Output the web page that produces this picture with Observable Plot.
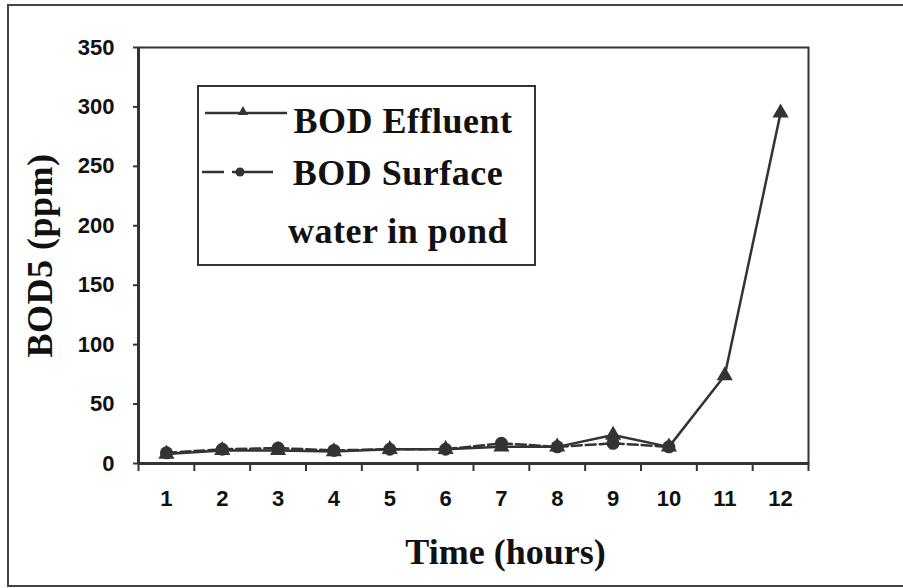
<!DOCTYPE html>
<html>
<head>
<meta charset="utf-8">
<script src="https://cdn.jsdelivr.net/npm/d3@7"></script>
<script src="https://cdn.jsdelivr.net/npm/@observablehq/plot@0.6"></script>
<style>
  html, body { margin: 0; padding: 0; background: #fff; overflow: hidden; }
  #wrap { position: relative; width: 903px; height: 588px; overflow: hidden; }
  #border { position: absolute; left: 7px; top: 4px; width: 905px; height: 583px; border: 2px solid #444; box-sizing: border-box; pointer-events: none; }
  #legend { position: absolute; left: 197px; top: 85px; }
</style>
</head>
<body>
<div id="wrap">
  <div id="chart"></div>
  <div id="border"></div>
  <div id="legend"></div>
</div>
<script>
const hours = [1, 2, 3, 4, 5, 6, 7, 8, 9, 10, 11, 12];
const effluent = [8, 11, 11, 10, 12, 12, 14, 14, 24, 14, 74, 295];
const surfaceHours = [1, 2, 3, 4, 5, 6, 7, 8, 9, 10];
const surface = [9, 12, 13, 11, 12, 12, 17, 14, 17, 14];
const yTicks = [0, 50, 100, 150, 200, 250, 300, 350];
const legendLines = [["BOD Effluent"], ["BOD Surface", "water in pond"]];

const effData = hours.map((h, i) => ({hour: h, bod: effluent[i]}));
const surfData = surfaceHours.map((h, i) => ({hour: h, bod: surface[i]}));
const boundaries = d3.range(0.5, 13, 1);

const ink = "#333";
const serif = "Liberation Serif, Times New Roman, serif";
const sans = "Liberation Sans, Arial, sans-serif";
const chart = Plot.plot({
  width: 903,
  height: 588,
  marginLeft: 138,
  marginRight: 95,
  marginTop: 47,
  marginBottom: 125,
  style: {background: "transparent", color: "#111"},
  x: {domain: [0.5, 12.5]},
  y: {domain: [0, 350]},
  marks: [
    Plot.frame({stroke: ink, strokeWidth: 2}),
    Plot.axisY({ticks: yTicks, tickSize: 5, tickPadding: 19, stroke: ink, strokeWidth: 2,
      fontFamily: sans, fontWeight: "bold", fontSize: 22,
      label: "BOD5 (ppm)", labelAnchor: "center", labelArrow: "none", labelOffset: 112}),
    Plot.axisX({ticks: boundaries, tickSize: 8, tickFormat: () => "", stroke: ink, strokeWidth: 2, label: null}),
    Plot.axisX({ticks: hours, tickSize: 0, tickPadding: 27,
      fontFamily: sans, fontWeight: "bold", fontSize: 22, label: null}),
    Plot.ruleX([0.5], {stroke: ink, strokeWidth: 3}),
    Plot.ruleY([0], {stroke: ink, strokeWidth: 3}),
    Plot.line(surfData, {x: "hour", y: "bod", stroke: ink, strokeWidth: 2.5, strokeDasharray: "10,4"}),
    Plot.line(effData, {x: "hour", y: "bod", stroke: ink, strokeWidth: 2.5}),
    Plot.dot(surfData, {x: "hour", y: "bod", symbol: "circle", r: 6.5, fill: ink}),
    Plot.dot(effData, {x: "hour", y: "bod", symbol: "triangle", r: 6, fill: ink}),
    Plot.text(["Time (hours)"], {frameAnchor: "bottom", dy: 100, dx: 32, fontFamily: serif,
      fontWeight: "bold", fontSize: 36, fill: "#111"})
  ]
});
document.getElementById("chart").appendChild(chart);

// y label styling
d3.select(chart).selectAll("g[aria-label='y-axis label'] text")
  .style("font-family", serif).style("letter-spacing", "0.5px")
  .style("font-size", "36px").style("font-weight", "bold");

// legend box (inside the plot frame)
const lg = d3.select("#legend").append("svg").attr("width", 340).attr("height", 182)
  .style("display", "block");
lg.append("rect").attr("x", 1).attr("y", 1).attr("width", 337).attr("height", 179)
  .attr("fill", "#fff").attr("stroke", ink).attr("stroke-width", 2);
// effluent sample
lg.append("line").attr("x1", 8).attr("x2", 90).attr("y1", 28).attr("y2", 28)
  .attr("stroke", ink).attr("stroke-width", 2.5);
lg.append("path").attr("d", "M46,21 L51,30 L41,30 Z").attr("fill", ink);
// surface sample
lg.append("line").attr("x1", 5).attr("x2", 76).attr("y1", 87).attr("y2", 87)
  .attr("stroke", ink).attr("stroke-width", 2.5).attr("stroke-dasharray", "22,8,50");
lg.append("circle").attr("cx", 43).attr("cy", 87).attr("r", 4.5).attr("fill", ink);
const txt = (s, x, y) => lg.append("text").attr("x", x).attr("y", y).attr("text-anchor", "middle")
  .attr("font-family", serif).attr("font-weight", "bold").attr("font-size", 36)
  .attr("letter-spacing", "0.5px").attr("fill", "#111").text(s);
txt(legendLines[0][0], 206, 48);
txt(legendLines[1][0], 201, 100);
txt(legendLines[1][1], 201, 158);
</script>
</body>
</html>
